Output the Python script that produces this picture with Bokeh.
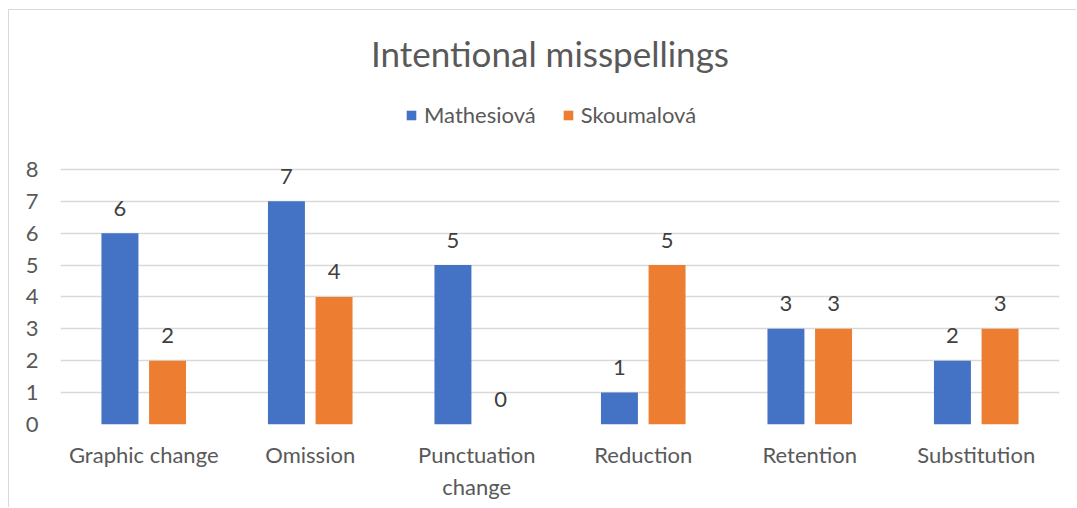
from bokeh.plotting import figure
from bokeh.models import (ColumnDataSource, FactorRange, Range1d, FixedTicker,
                          Legend, LegendItem, Label)
from bokeh.transform import dodge
from bokeh.core.properties import value
from bokeh.embed import file_html
from bokeh.resources import INLINE

categories = ["Graphic change", "Omission", "Punctuation change", "Reduction", "Retention", "Substitution"]
mathesiova = [6, 7, 5, 1, 3, 2]
skoumalova = [2, 4, 0, 5, 3, 3]
series_names = ["Mathesiová", "Skoumalová"]
title_text = "Intentional misspellings"
y_ticks = [0, 1, 2, 3, 4, 5, 6, 7, 8]

FONT = "Lato"
TXT = "#595959"
BLUE = "#4472C4"
ORANGE = "#ED7D31"
FS = "22px"

# factor labels as displayed (long label wrapped onto two lines)
factors = [c.replace("Punctuation change", "Punctuation\nchange") for c in categories]

src = ColumnDataSource(dict(
    cat=factors, m=mathesiova, s=skoumalova,
    ml=[str(v) for v in mathesiova], sl=[str(v) for v in skoumalova],
))

p = figure(x_range=FactorRange(*factors), y_range=Range1d(0, 12.737),
           width=1068, height=498, output_backend="svg", toolbar_location=None,
           min_border_left=51, min_border_right=18, min_border_top=8, min_border_bottom=84)
p.styles = {"margin-left": "8px", "margin-top": "9px",
            "border-left": "1px solid #d9d9d9", "border-top": "1px solid #d9d9d9"}
p.outline_line_color = None
p.background_fill_color = "white"
p.border_fill_color = "white"

off = 0.143
w = 0.222
r1 = p.vbar(x=dodge("cat", -off, range=p.x_range), top="m", width=w, source=src,
            fill_color=BLUE, line_color=None)
r2 = p.vbar(x=dodge("cat", off, range=p.x_range), top="s", width=w, source=src,
            fill_color=ORANGE, line_color=None)

for col, lab, d in (("m", "ml", -off), ("s", "sl", off)):
    p.text(x=dodge("cat", d, range=p.x_range), y=col, text=lab, source=src,
           y_offset=-25, text_align="center", text_baseline="middle",
           text_font=value(FONT), text_font_size=FS, text_color="#404040")

p.add_layout(Label(x=3, y=11.64, x_offset=-10, text=title_text, text_align="center",
                   text_baseline="middle", text_font=FONT, text_font_size="35px",
                   text_color=TXT))

legend = Legend(items=[LegendItem(label=series_names[0], renderers=[r1]),
                       LegendItem(label=series_names[1], renderers=[r2])],
                orientation="horizontal", location=(345, 296), padding=0,
                glyph_width=12, glyph_height=12, label_standoff=7, spacing=26,
                label_text_font=FONT, label_text_font_size=FS, label_text_color=TXT,
                border_line_color=None, background_fill_alpha=0)
p.add_layout(legend)

p.yaxis.ticker = FixedTicker(ticks=y_ticks)
p.ygrid.ticker = FixedTicker(ticks=y_ticks)
p.ygrid.grid_line_color = "#d9d9d9"
p.ygrid.grid_line_width = 1.5
p.xgrid.grid_line_color = None

for ax in (p.xaxis[0], p.yaxis[0]):
    ax.axis_line_color = None
    ax.major_tick_line_color = None
    ax.minor_tick_line_color = None
    ax.major_label_text_font = FONT
    ax.major_label_text_font_size = FS
    ax.major_label_text_color = TXT
p.yaxis.major_label_standoff = 16
p.xaxis.major_label_standoff = 10

open("out.html", "w").write(file_html(p, INLINE))
